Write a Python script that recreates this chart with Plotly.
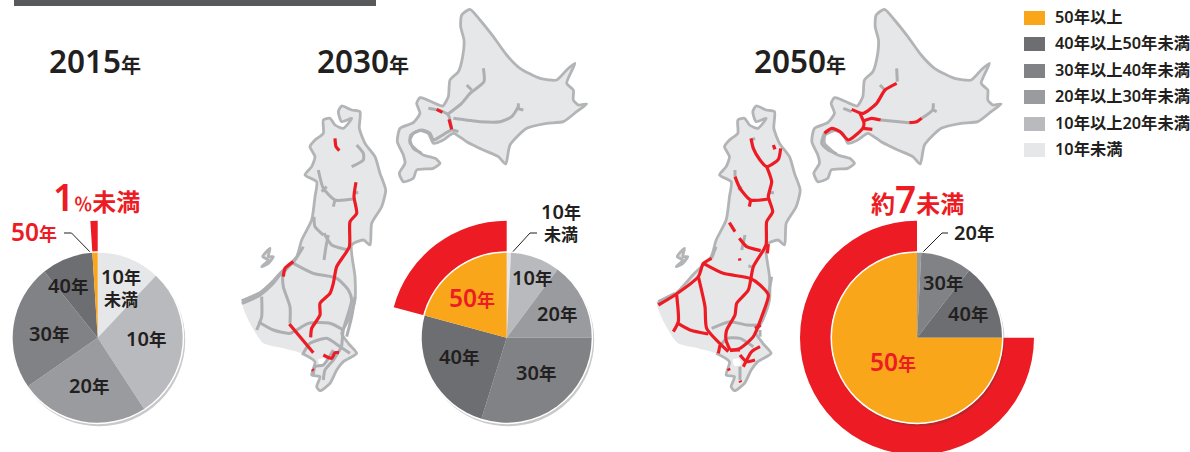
import plotly.graph_objects as go

PAD = 24
W, H = 1190 + PAD, 460
INK, RED, ORANGE = "#231f20", "#ed1c24", "#faa61a"
MAP_FILL, MAP_EDGE, ROAD = "#e6e7e8", "#b2b4b6", "#adafb2"
FONT = "Noto Sans, Noto Sans CJK JP"

CATEGORIES = ["10年未満", "10年以上20年未満", "20年以上30年未満", "30年以上40年未満", "40年以上50年未満", "50年以上"]
COLORS = ["#e6e7e8", "#b9babe", "#9a9b9f", "#808285", "#6d6e71", ORANGE]
SHARES_2015 = [12.0, 28.8, 24.5, 23.9, 9.8, 1.0]
SHARES_2030 = [0.8, 9.4, 14.8, 29.8, 24.4, 20.8]
SHARES_2050 = [0.0, 0.0, 0.8, 9.7, 14.5, 75.0]

LEGEND_ORDER = [5, 4, 3, 2, 1, 0]
LEGEND_Y = [18, 44, 71, 97, 124, 150]

# Map drawings, in reference zoom units
HOKKAIDO = [(690,28),(665,45),(662,80),(672,120),(668,170),(655,215),(630,240),(625,290),(608,318),(585,310),(558,298),(540,293),(530,310),(540,340),(520,368),(480,385),(472,425),(490,465),(495,490),(478,520),(490,545),(520,535),(530,510),(580,505),(600,490),(585,475),(550,465),(530,450),(510,430),(512,405),(540,392),(565,400),(580,430),(610,420),(640,400),(680,425),(730,450),(775,470),(797,492),(810,435),(860,385),(920,370),(970,365),(1010,335),(1040,312),(1015,315),(1000,300),(1000,270),(980,250),(1005,190),(980,210),(950,240),(900,235),(840,205),(800,165),(760,110),(720,60),(690,28)]
HONSHU = [(305,318),(335,330),(360,335),(358,385),(375,430),(405,470),(420,520),(437,570),(425,620),(395,670),(390,735),(370,720),(335,735),(345,830),(345,900),(325,960),(305,1000),(325,1030),(350,1060),(310,1085),(290,1110),(270,1150),(240,1172),(230,1160),(240,1130),(215,1125),(225,1085),(185,1060),(130,1045),(70,1030),(30,970),(8,910),(60,885),(120,820),(170,770),(185,720),(215,660),(225,590),(230,545),(195,525),(215,500),(225,470),(210,440),(225,420),(250,400),(250,360),(270,355),(285,375),(310,385),(335,355),(305,365),(295,335),(305,318)]
HONSHU_COAST = HONSHU[31:] + HONSHU[1:28]
TOKYO_BAY = [(235,1078),(255,1076),(258,1095),(240,1098),(235,1078)]
SADO = [(90,745),(68,770),(85,780),(65,800),(85,790),(100,770),(85,770),(90,745)]

ROADS_2030 = [
 [(730,205),(732,245),(690,280),(665,310),(620,345)], [(680,255),(695,270)],
 [(640,355),(720,365),(780,365),(815,350),(835,320)], [(830,325),(850,330)], [(835,310),(835,325)],
 [(655,395),(635,390),(600,410),(580,420),(570,400),(545,390),(520,400),(510,420),(520,445),(545,460)],
 [(565,325),(600,332),(625,345),(635,388)],
 [(350,435),(370,460),(370,480),(335,500)],
 [(235,510),(250,565),(285,600),(340,597)], [(285,600),(280,620)], [(245,575),(260,560)], [(340,578),(355,578)],
 [(222,650),(225,680),(250,705)], [(265,705),(258,740),(252,780)], [(252,700),(275,735),(325,750)],
 [(190,740),(165,780),(130,820),(130,860),(150,920),(150,970)],
 [(160,790),(220,820),(290,835),(325,870),(335,900),(310,990),(305,1040)],
 [(5,910),(60,885),(100,850),(130,810)], [(5,903),(60,878),(100,843)],
 [(65,890),(65,950),(50,990)],
 [(55,965),(100,990),(150,1000),(205,970),(270,970),(310,990)],
 [(190,1060),(210,1030),(260,1015),(300,1040),(330,1060)],
 [(305,1040),(280,1080),(255,1110),(250,1140)],
 [(280,1050),(250,1095),(225,1100),(220,1125)],
 [(345,890),(335,950),(320,1010)],
]
RED_2030 = [
 [(590,328),(607,337)], [(627,358),(635,388)], [(285,415),(288,440),(298,452)],
 [(348,547),(342,590),(350,640),(330,665),(328,740),(290,800),(280,850),(270,880),(240,910),(240,945),(215,985),(212,1012)],
 [(160,785),(135,805),(130,830)], [(148,972),(220,1058)],
 [(250,1065),(275,1075),(285,1058),(297,1058)], [(217,1108),(220,1112)],
]
ROADS_2050 = [
 [(770,205),(772,245)], [(720,255),(735,270)], [(722,360),(808,368)], [(845,355),(878,330),(880,310)], [(880,330),(890,335)],
 [(553,400),(545,430),(565,450),(590,462)], [(610,325),(635,335)],
 [(215,985),(270,965),(320,975),(360,975)], [(240,1040),(260,1015),(300,1015),(340,1040)],
 [(315,705),(305,750)], [(325,798),(335,800)], [(395,830),(385,885)], [(285,510),(285,530)], [(295,570),(305,560)], [(385,578),(402,578)],
 [(345,415),(333,420)], [(228,740),(215,775)], [(55,905),(105,880)], [(360,990),(360,1010)], [(300,1100),(300,1140)],
]
RED_2050 = [
 [(770,250),(735,270),(710,310),(670,340),(635,328)],
 [(660,340),(672,370),(668,385),(625,420),(600,395),(575,385),(553,400)],
 [(672,362),(695,355),(722,360)], [(808,368),(830,365),(845,355)], [(670,385),(697,388)],
 [(333,415),(340,445),(360,480),(380,500),(415,478),(422,445)], [(400,435),(405,448)],
 [(380,500),(395,545),(385,590),(398,635),(380,665),(378,735),(340,800),(325,870),(290,910),(285,945),(260,990),(258,1020),(270,1050)],
 [(285,530),(300,565),(332,600),(385,597)], [(332,600),(328,620)],
 [(268,668),(285,695)], [(298,715),(320,740),(362,752)], [(385,732),(382,760)],
 [(215,775),(190,790),(175,830),(105,885),(55,915)],
 [(190,790),(250,820),(330,835),(360,855),(385,885),(365,950),(340,1010),(300,1045),(270,1052)],
 [(175,830),(195,920),(200,985),(265,1055)],
 [(110,885),(115,965),(100,995)], [(110,968),(150,990),(205,1002)],
 [(240,1035),(235,1060)], [(345,985),(362,975)],
 [(270,1050),(300,1050)], [(300,1065),(320,1085),(345,1080)], [(310,1100),(335,1055),(360,1040)],
 [(265,1105),(268,1112)], [(300,1142),(302,1147)], [(298,775),(300,782)],
]

def z2(points):
    return [240 + p[0] / 3 for p in points], [p[1] / 3 for p in points]
def z3(points):
    return [640 + p[0] / 3 for p in points], [p[1] / 3 for p in points]

def joined(segments, conv):
    xs, ys = [], []
    for s in segments:
        x, y = conv(s)
        xs += x + [None]
        ys += y + [None]
    return xs, ys

fig = go.Figure()
SPLINE = dict(shape="spline", smoothing=0.6)

def land(points, dx, fill=True, stroke=True, fillcolor=MAP_FILL):
    x, y = z2(points)
    fig.add_trace(go.Scatter(x=[v + dx for v in x], y=y, mode="lines", fill="toself" if fill else "none",
                             fillcolor=fillcolor,
                             line=dict(color=MAP_EDGE, width=2.8 if stroke else 0, **SPLINE), hoverinfo="skip"))

for dx, conv, roads, reds in ((0, z2, ROADS_2030, RED_2030), (414.5, z3, ROADS_2050, RED_2050)):
    land(HOKKAIDO, dx)
    land(HONSHU, dx, stroke=False)
    land(HONSHU_COAST, dx, fill=False)
    land(SADO, dx)
    land(TOKYO_BAY, dx, stroke=False, fillcolor="#ffffff")
    x, y = joined(roads, conv)
    fig.add_trace(go.Scatter(x=x, y=y, mode="lines", line=dict(color=ROAD, width=3, **SPLINE), hoverinfo="skip"))
    x, y = joined(reds, conv)
    fig.add_trace(go.Scatter(x=x, y=y, mode="lines", line=dict(color=RED, width=3.2, **SPLINE), hoverinfo="skip"))

def dom(cx, cy, r):
    return dict(x=[(cx - r + PAD) / W, (cx + r + PAD) / W], y=[1 - (cy + r) / H, 1 - (cy - r) / H])

def pie(values, colors, cx, cy, r, hole=0):
    fig.add_trace(go.Pie(values=values, marker=dict(colors=colors, line=dict(width=0)), domain=dom(cx, cy, r),
                         hole=hole, sort=False, direction="clockwise", rotation=0, textinfo="none",
                         hoverinfo="skip", showlegend=False))

for shares, cx in ((SHARES_2015, 97.7), (SHARES_2030, 506.7), (SHARES_2050, 917)):
    cy = 337.7
    pie([100 - shares[5], shares[5]], ["rgba(0,0,0,0)", RED], cx, cy, 117, hole=86 / 117)
    pie([1], ["rgba(60,60,60,0.28)"], cx + 1.5, cy + 2.5, 86)
    pie([1], ["#ffffff"], cx, cy, 86.5)
    pie(shares, COLORS, cx, cy, 85)

def text(x, y, s, size=18.5, color=INK, anchor="center"):
    fig.add_annotation(x=x, y=y - 2, text=s, showarrow=False, xanchor=anchor, yanchor="middle",
                       font=dict(family=FONT, size=size, color=color, weight=600))

def nen(d, small):
    return f'{d}<span style="font-size:{small}px">年</span>'

def leader(px, py):
    fig.add_trace(go.Scatter(x=px, y=py, mode="lines", line=dict(color=INK, width=1), hoverinfo="skip"))

for x, s in ((95, "2015"), (363, "2030"), (800, "2050")):
    text(x, 62, nen(s, 20), size=31.5)

for x, y, s in ((145.7, 340, "10"), (89, 387, "20"), (48.7, 335, "30"), (68, 287, "40"),
                (531.7, 279, "10"), (556.7, 315, "20"), (536, 374, "30"), (459, 358, "40"),
                (943, 284, "30"), (968, 315, "40"), (974, 234, "20")):
    text(x, y, nen(s, 17.5), size=20)
wrapped = '<span style="font-size:20px">10</span>年<br>未満'
text(121, 288.5, wrapped, 17)
text(561, 223.5, wrapped, 17)
text(34, 233, nen("50", 18), 24.5, RED)
text(471.7, 299, nen("50", 18), 24.5, RED)
text(893, 363, nen("50", 18), 24.5, RED)
text(96, 198, '<span style="font-size:37px">1</span><span style="font-size:18px">％</span>未満', 24, RED)
text(917, 200, '約<span style="font-size:37px">7</span>未満', 24, RED)

leader([64, 71.5, 96], [233, 233, 258])
leader([537, 530, 508], [233, 233, 257])
leader([948, 942, 918], [233, 233, 257])

shapes = [dict(type="rect", xref="x", yref="y", x0=14, x1=376, y0=0, y1=6, fillcolor="#58595b", line_width=0)]
for i, y in zip(LEGEND_ORDER, LEGEND_Y):
    shapes.append(dict(type="rect", xref="x", yref="y", x0=1024, x1=1045, y0=y - 7, y1=y + 7,
                       fillcolor=COLORS[i], line_width=0))
    text(1053, y + 1, CATEGORIES[i], 16.3, anchor="left")

fig.update_layout(
    width=W, height=H, margin=dict(l=0, r=0, t=0, b=0), autosize=False,
    paper_bgcolor="#ffffff", plot_bgcolor="#ffffff", showlegend=False, shapes=shapes,
    xaxis=dict(range=[-PAD, 1190], visible=False, fixedrange=True),
    yaxis=dict(range=[H, 0], visible=False, fixedrange=True),
)
fig.write_html("out.html", config=dict(displayModeBar=False), post_script=
    f"document.documentElement.style.overflow='hidden';document.body.style.overflow='hidden';document.body.style.margin='0 0 0 -{PAD}px';")
